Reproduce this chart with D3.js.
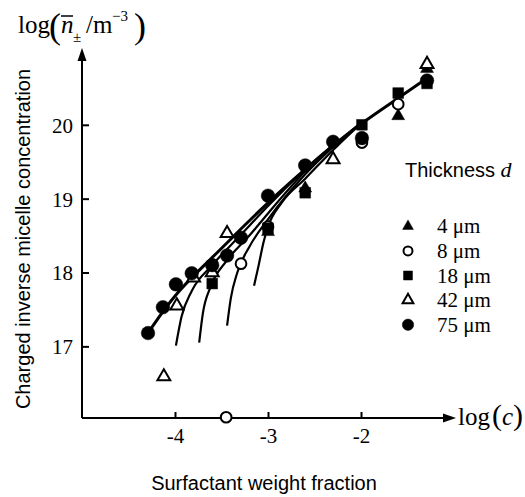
<!DOCTYPE html>
<html>
<head>
<meta charset="utf-8">
<script src="https://cdn.jsdelivr.net/npm/d3@7"></script>
<style>
  body { margin: 0; background: #fff; }
  svg text { fill: #000; }
  .serif { font-family: "Liberation Serif", "Times New Roman", serif; }
  .sans { font-family: "Liberation Sans", Arial, sans-serif; }
</style>
</head>
<body>
<svg id="chart"></svg>
<script>
const width = 525, height = 497;

// tick values
const xTicks = [-4, -3, -2];
const yTicks = [17, 18, 19, 20];

// measured points [log c, log n] for each thickness
const pts4 = [[-3.0, 18.55], [-2.6, 19.14], [-1.6, 20.12], [-1.29, 20.76]];
const pts8 = [[-3.45, 16.04], [-3.29, 18.12], [-3.0, 18.62], [-1.99, 19.76], [-1.6, 20.28]];
const pts18 = [[-3.6, 17.85], [-3.0, 18.6], [-2.6, 19.08], [-1.99, 20.0], [-1.6, 20.43], [-1.29, 20.56]];
const pts42 = [[-4.12, 16.59], [-3.98, 17.55], [-3.8, 17.93], [-3.6, 18.0], [-3.44, 18.53], [-2.3, 19.53], [-1.29, 20.82]];
const pts75 = [[-4.29, 17.18], [-4.13, 17.53], [-3.99, 17.84], [-3.82, 17.99], [-3.6, 18.1], [-3.44, 18.23],
               [-3.29, 18.47], [-3.0, 19.04], [-2.6, 19.45], [-2.3, 19.77], [-1.99, 19.82], [-1.29, 20.6]];

// fitted curves
const fit75 = [[-4.29, 17.18], [-4.0, 17.72], [-3.6, 18.2], [-3.3, 18.58], [-3.0, 18.95], [-2.6, 19.4],
               [-2.3, 19.72], [-2.0, 20.02], [-1.6, 20.36], [-1.29, 20.63]];
const fit42 = [[-3.99, 17.01], [-3.93, 17.4], [-3.82, 17.75], [-3.6, 18.1], [-3.3, 18.5], [-3.0, 18.9], [-2.6, 19.4], [-2.3, 19.73]];
const fit18 = [[-3.74, 17.05], [-3.7, 17.45], [-3.62, 17.8], [-3.45, 18.15], [-3.2, 18.5], [-3.0, 18.8], [-2.6, 19.37], [-2.3, 19.72]];
const fit8 = [[-3.44, 17.28], [-3.4, 17.65], [-3.33, 18.0], [-3.2, 18.35], [-3.0, 18.72], [-2.6, 19.33], [-2.3, 19.7], [-2.0, 20.03]];
const fit4 = [[-3.15, 17.82], [-3.1, 18.1], [-3.05, 18.4], [-3.0, 18.62], [-2.85, 18.95], [-2.6, 19.27], [-2.3, 19.66], [-2.0, 20.02]];

const legendLabels = ["4 μm", "8 μm", "18 μm", "42 μm", "75 μm"];

const svg = d3.select("#chart").attr("width", width).attr("height", height);

const x = d3.scaleLinear().domain([-5, -1]).range([82, 454]);
const y = d3.scaleLinear().domain([16.03, 21.04]).range([418, 48]);

// axes lines with arrow heads
svg.append("line").attr("x1", x(-5)).attr("y1", y(16.03)).attr("x2", x(-5)).attr("y2", 58)
    .attr("stroke", "#000").attr("stroke-width", 2);
svg.append("path").attr("d", `M${x(-5)},48 L${x(-5) - 4.5},61 L${x(-5) + 4.5},61 Z`).attr("fill", "#000");
svg.append("line").attr("x1", x(-5)).attr("y1", y(16.03)).attr("x2", 444).attr("y2", y(16.03))
    .attr("stroke", "#000").attr("stroke-width", 2);
svg.append("path").attr("d", `M456,${y(16.03)} L443,${y(16.03) - 4.5} L443,${y(16.03) + 4.5} Z`).attr("fill", "#000");

// y axis ticks (inward)
const yAxis = d3.axisLeft(y).tickValues(yTicks).tickSize(-7).tickSizeOuter(0).tickPadding(9)
    .tickFormat(d => String(d));
const gy = svg.append("g").attr("transform", `translate(${x(-5)},0)`).call(yAxis);
gy.select(".domain").remove();
gy.selectAll("line").attr("stroke-width", 2);
gy.selectAll("text").attr("class", "serif").style("font-size", "21px").attr("dy", "0.35em");

const xAxis = d3.axisBottom(x).tickValues(xTicks).tickSize(-6).tickSizeOuter(0).tickPadding(10)
    .tickFormat(d => String(d));
const gx = svg.append("g").attr("transform", `translate(0,${y(16.03)})`).call(xAxis);
gx.select(".domain").remove();
gx.selectAll("line").attr("stroke-width", 2);
gx.selectAll("text").attr("class", "serif").style("font-size", "21px");

// curves
const line = d3.line().x(d => x(d[0])).y(d => y(d[1])).curve(d3.curveMonotoneX);
[fit42, fit18, fit8, fit4].forEach(f => {
    svg.append("path").attr("d", line(f)).attr("fill", "none").attr("stroke", "#000").attr("stroke-width", 2.2);
});
svg.append("path").attr("d", line.curve(d3.curveBasis)(fit75)).attr("fill", "none").attr("stroke", "#000").attr("stroke-width", 3);

// marker styles
const styles = [
    { type: d3.symbolTriangle, size: 72, fill: "#000" },
    { type: d3.symbolCircle, size: 90, fill: "#fff" },
    { type: d3.symbolSquare, size: 115, fill: "#000" },
    { type: d3.symbolTriangle, size: 72, fill: "#fff" },
    { type: d3.symbolCircle, size: 145, fill: "#000" }
];
const series = [pts4, pts8, pts18, pts42, pts75];

series.forEach((pts, i) => {
    const s = styles[i];
    svg.append("g").selectAll("path").data(pts).join("path")
        .attr("transform", d => `translate(${x(d[0])},${y(d[1])})`)
        .attr("d", d3.symbol().type(s.type).size(s.size))
        .attr("fill", s.fill)
        .attr("stroke", "#000")
        .attr("stroke-width", s.fill === "#fff" ? 2 : 0.5);
});

// legend
const th = svg.append("text").attr("x", 405).attr("y", 177).attr("class", "sans").style("font-size", "20px");
th.append("tspan").text("Thickness ");
th.append("tspan").attr("class", "serif").style("font-style", "italic").style("font-size", "22px").text("d");

const legY = d3.scaleBand().domain(d3.range(legendLabels.length)).range([214, 337]);
const leg = svg.append("g").selectAll("g").data(legendLabels).join("g")
    .attr("transform", (d, i) => `translate(0,${legY(i) + legY.bandwidth() / 2})`);
leg.append("path")
    .attr("transform", "translate(408,0)")
    .attr("d", (d, i) => d3.symbol().type(styles[i].type).size(styles[i].size * 0.7)())
    .attr("fill", (d, i) => styles[i].fill)
    .attr("stroke", "#000")
    .attr("stroke-width", (d, i) => styles[i].fill === "#fff" ? 2 : 0.5);
leg.append("text").attr("x", 437).attr("y", 7).attr("class", "serif").style("font-size", "21px").text(d => d);

// axis titles
svg.append("text")
    .attr("transform", "translate(30,239) rotate(-90)")
    .attr("text-anchor", "middle").attr("class", "sans").style("font-size", "20px")
    .text("Charged inverse micelle concentration");

svg.append("text").attr("x", 264).attr("y", 490).attr("text-anchor", "middle")
    .attr("class", "sans").style("font-size", "20px").text("Surfactant weight fraction");

// log(c) at end of x axis
const lc = svg.append("text").attr("x", 458).attr("y", 425).attr("class", "serif").style("font-size", "25px");
lc.append("tspan").text("log");
lc.append("tspan").style("font-size", "30px").attr("dx", 2).text("(");
lc.append("tspan").style("font-style", "italic").text("c");
lc.append("tspan").style("font-size", "30px").text(")");

// y axis title at the top
const yt = svg.append("g").attr("class", "serif");
yt.append("text").attr("x", 18).attr("y", 33).style("font-size", "25px").text("log");
yt.append("text").attr("x", 49).attr("y", 38).style("font-size", "36px").text("(");
yt.append("text").attr("x", 61).attr("y", 33).style("font-size", "25px").style("font-style", "italic").text("n");
yt.append("line").attr("x1", 61).attr("x2", 73).attr("y1", 16).attr("y2", 16).attr("stroke", "#000").attr("stroke-width", 1.5);
yt.append("text").attr("x", 73).attr("y", 42).style("font-size", "15px").text("±");
yt.append("text").attr("x", 86).attr("y", 33).style("font-size", "25px").text("/m");
yt.append("text").attr("x", 112).attr("y", 21).style("font-size", "15px").text("−3");
yt.append("text").attr("x", 134).attr("y", 38).style("font-size", "36px").text(")");
</script>
</body>
</html>
